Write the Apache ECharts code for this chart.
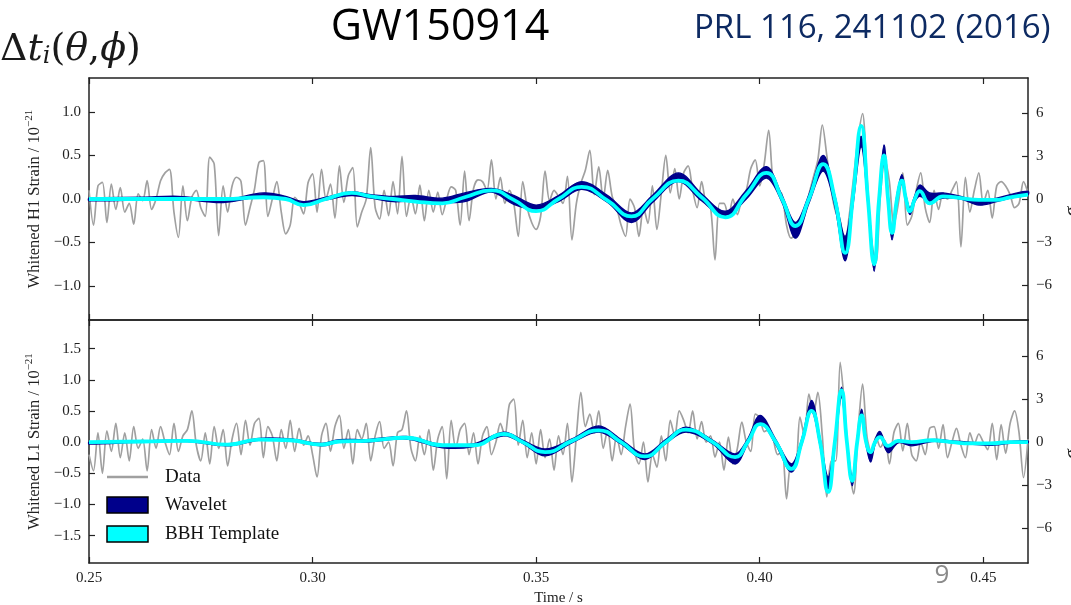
<!DOCTYPE html>
<html><head><meta charset="utf-8">
<script src="https://cdn.jsdelivr.net/npm/echarts@6/dist/echarts.min.js"></script>
<style>html,body{margin:0;padding:0;background:#fff}#c{width:1071px;height:605px}</style>
</head><body><div id="c"></div>
<script>
// ---- tick labels ----
const xTicks = [0.25, 0.30, 0.35, 0.40, 0.45];
const h1StrainTicks = [-1.0, -0.5, 0, 0.5, 1.0];
const l1StrainTicks = [-1.5, -1.0, -0.5, 0, 0.5, 1.0, 1.5];
const sigmaTicks = [-6, -3, 0, 3, 6];
const legendLabels = ['Data', 'Wavelet', 'BBH Template'];

// ---- whitened data, one sample per ms from 0.250 s ----
const dataStartTime = 0.25, dataStep = 0.001;
const h1Data = [0.10,-0.30,0.15,0.19,-0.27,0.17,-0.12,0.13,-0.15,-0.05,
 -0.29,0.06,-0.02,0.21,-0.12,0.00,0.21,0.30,0.34,-0.15,
 -0.44,0.15,-0.25,0.02,0.10,-0.10,-0.20,0.48,0.40,-0.42,
 0.15,-0.15,0.15,0.25,0.20,-0.30,-0.10,0.11,0.42,0.44,
 -0.20,0.00,0.20,-0.15,-0.40,-0.30,0.02,-0.05,-0.17,0.19,
 0.29,-0.15,0.34,0.00,0.17,-0.22,0.38,-0.04,0.27,0.36,
 -0.32,-0.15,0.00,0.59,-0.10,-0.23,0.10,-0.19,0.20,-0.17,
 0.49,-0.20,0.03,-0.17,0.16,-0.25,0.10,-0.15,0.08,-0.18,
 0.00,0.14,0.10,-0.30,0.32,-0.25,0.12,0.22,0.20,0.10,
 0.45,0.00,0.25,-0.05,0.10,-0.05,-0.43,0.20,-0.10,-0.27,
 -0.35,-0.20,0.32,-0.02,0.10,0.03,-0.05,0.26,-0.47,-0.05,
 0.18,0.33,0.56,0.05,0.37,0.00,0.33,0.03,-0.10,-0.30,
 -0.43,0.00,-0.10,-0.43,-0.10,-0.28,0.15,-0.35,0.07,0.50,
 0.07,0.35,0.00,0.30,0.38,0.10,-0.10,0.20,-0.05,-0.10,
 -0.70,-0.05,-0.05,-0.20,0.00,-0.18,0.00,0.10,0.35,0.45,
 0.15,0.40,0.79,0.20,0.12,0.05,-0.30,-0.45,-0.40,-0.30,
 -0.20,0.05,0.25,0.45,0.85,0.50,0.10,-0.15,-0.25,-0.55,
 -0.20,0.25,0.70,0.98,0.25,-0.47,-0.73,0.05,0.45,0.20,
 -0.30,-0.05,0.30,-0.30,-0.20,0.10,0.30,-0.10,-0.27,0.10,
 -0.12,0.07,0.00,0.10,0.20,-0.55,0.25,-0.15,0.10,0.30,
 -0.05,0.10,-0.22,0.15,0.20,0.15,0.05,-0.10,-0.05,0.20,
 0.07];
const l1Data = [-0.20,-0.46,0.15,-0.50,0.18,-0.15,0.30,-0.25,0.15,-0.30,
 0.25,-0.10,0.05,-0.46,0.20,-0.10,0.25,0.00,-0.20,0.30,
 -0.15,0.10,0.20,0.50,-0.05,-0.30,0.15,-0.35,0.25,-0.10,
 0.20,-0.38,0.05,0.30,-0.20,0.35,-0.05,0.30,0.38,-0.25,
 0.25,0.10,-0.30,0.20,-0.10,0.35,-0.15,0.22,-0.05,0.10,
 -0.20,-0.56,0.10,0.30,-0.15,0.25,0.43,-0.10,0.20,-0.35,
 0.20,0.05,0.30,-0.30,0.10,0.33,-0.10,0.00,-0.38,0.15,
 0.20,0.50,-0.10,-0.30,0.10,-0.20,0.20,-0.45,0.05,0.25,
 -0.59,0.35,-0.10,0.20,0.30,-0.20,0.15,-0.35,0.10,0.25,
 -0.20,0.00,0.30,0.10,0.60,0.69,-0.05,0.35,-0.25,0.15,
 -0.35,0.20,-0.25,0.05,-0.45,0.10,-0.20,0.30,-0.64,0.10,
 0.80,0.25,0.45,0.15,0.50,-0.10,0.20,-0.30,0.10,-0.20,
 0.25,0.61,-0.15,-0.35,0.00,-0.64,-0.20,-0.40,0.10,-0.30,
 0.35,0.10,0.50,0.35,0.15,0.50,0.05,0.33,0.00,0.10,
 -0.24,0.00,-0.45,0.08,-0.35,-0.10,0.32,0.00,-0.15,0.45,
 0.40,0.17,0.20,0.05,-0.20,-0.15,-0.91,-0.35,-0.40,0.40,
 0.10,0.77,0.45,0.80,0.10,-0.88,-0.30,-0.30,1.28,0.56,
 -0.40,-0.83,0.18,0.93,0.08,-0.17,0.08,-0.08,0.03,-0.35,
 0.15,0.30,-0.14,0.30,-0.20,-0.30,0.00,-0.20,0.22,0.25,
 -0.10,0.28,-0.25,0.00,0.22,-0.05,-0.25,0.15,-0.03,0.13,
 0.00,-0.12,0.30,-0.28,0.28,-0.18,0.30,0.50,0.15,-0.57,
 0.05];

// ---- reconstructions (H1) ----
const h1KeyTimes = [0.250,0.262,0.270,0.280,0.289,0.294,0.298,0.303,0.3087,0.313,
 0.318,0.323,0.329,0.334,0.340,0.345,0.350,0.355,0.3602,0.366,
 0.3713,0.376,0.3818,0.387,0.3923,0.397,0.4015,0.405,0.408,0.411,
 0.4142,0.4168,0.4191,0.4209,0.4227,0.4242,0.4256,0.4267,0.4278,0.4287,
 0.4296,0.4307,0.4318,0.4327,0.4336,0.4347,0.4358,0.438,0.441,0.445,
 0.449,0.453,0.456,0.460];
const h1Template = [0.00,0.00,0.00,0.00,0.02,0.00,-0.07,0.00,0.07,0.03,
 0.00,-0.03,-0.05,0.02,0.10,-0.01,-0.14,0.00,0.14,-0.02,
 -0.20,0.00,0.21,0.02,-0.21,0.05,0.30,0.00,-0.31,0.00,
 0.40,0.00,-0.62,0.05,0.84,0.00,-0.75,0.00,0.50,0.00,
 -0.39,0.00,0.21,0.00,-0.14,0.00,0.09,-0.05,0.03,0.01,
 -0.01,-0.01,0.02,0.05];
const h1WaveletLow = [-0.02,-0.01,0.00,-0.04,0.03,0.00,-0.06,-0.01,0.04,0.01,
 -0.03,-0.02,-0.04,-0.03,0.08,-0.06,-0.12,-0.03,0.11,-0.04,
 -0.27,-0.04,0.20,-0.02,-0.20,0.00,0.24,-0.04,-0.45,-0.05,
 0.32,-0.08,-0.71,-0.05,0.60,-0.06,-0.83,-0.06,0.43,-0.04,
 -0.47,-0.04,0.18,-0.02,-0.18,-0.03,0.03,-0.03,0.01,0.00,
 -0.07,-0.03,0.01,0.05];
const h1WaveletHigh = [0.01,0.02,0.03,-0.01,0.07,0.03,-0.03,0.02,0.08,0.05,
 0.03,0.04,0.01,0.07,0.12,0.04,-0.07,0.04,0.20,0.04,
 -0.16,0.04,0.30,0.06,-0.14,0.10,0.37,0.04,-0.27,0.05,
 0.50,0.04,-0.43,0.08,0.72,0.04,-0.70,0.05,0.62,0.06,
 -0.35,0.05,0.28,0.04,-0.10,0.04,0.16,0.07,0.07,0.03,
 -0.03,0.01,0.05,0.09];

// ---- reconstructions (L1) ----
const l1KeyTimes = [0.250,0.262,0.272,0.281,0.288,0.295,0.302,0.306,0.312,0.321,
 0.329,0.336,0.3428,0.347,0.352,0.358,0.364,0.369,0.3743,0.379,
 0.3835,0.3895,0.3945,0.3973,0.4001,0.4036,0.4071,0.4094,0.4116,0.4135,
 0.4153,0.4168,0.4183,0.4195,0.4207,0.4218,0.4228,0.4238,0.4248,0.4258,
 0.4269,0.4287,0.431,0.434,0.4385,0.443,0.447,0.4515,0.456,0.460];
const l1Template = [0.00,0.01,0.02,-0.04,0.04,0.03,-0.04,0.01,0.02,0.07,
 -0.05,-0.05,0.13,0.00,-0.16,0.02,0.19,0.00,-0.23,0.00,
 0.20,0.00,-0.24,0.00,0.29,0.00,-0.43,0.00,0.50,0.00,
 -0.80,0.00,0.83,0.00,-0.62,0.00,0.43,0.00,-0.16,0.00,
 0.08,-0.06,0.02,0.00,0.03,0.00,-0.02,-0.02,0.00,0.00];
const l1WaveletLow = [-0.03,0.00,0.01,-0.06,0.03,0.02,-0.06,0.00,0.00,0.05,
 -0.09,-0.07,0.10,-0.02,-0.22,-0.01,0.16,-0.03,-0.28,-0.02,
 0.16,-0.03,-0.35,-0.03,0.32,-0.04,-0.48,-0.04,0.50,-0.06,
 -0.75,-0.05,0.72,-0.05,-0.70,-0.04,0.40,-0.05,-0.32,-0.04,
 0.10,-0.17,-0.01,-0.06,0.01,-0.01,-0.03,-0.05,-0.02,-0.01];
const l1WaveletHigh = [0.00,0.02,0.03,-0.03,0.06,0.05,-0.02,0.04,0.04,0.09,
 -0.04,-0.03,0.16,0.03,-0.11,0.05,0.26,0.04,-0.19,0.04,
 0.24,0.03,-0.19,0.05,0.43,0.04,-0.35,0.05,0.67,0.06,
 -0.56,0.05,0.88,0.05,-0.55,0.06,0.53,0.05,-0.20,0.04,
 0.17,-0.09,0.03,-0.02,0.04,0.02,0.00,-0.02,0.01,0.02];

// ---- build chart ----
const SERIF = 'Liberation Serif';
const AX = '#222';
const GRAY = '#a0a0a0', NAVY = '#00008b', CYAN = '#00ffff';
const minus = s => s.replace('-', '\u2212');

function xAxis(grid, pos, labels, name) {
  return {
    type: 'value', gridIndex: grid, position: pos, min: 0.25, max: 0.46,
    axisLine: { show: true, onZero: false, lineStyle: { color: AX, width: 1.5 } },
    axisTick: { show: true, inside: true, length: 6, customValues: xTicks, lineStyle: { color: AX, width: 1.2 } },
    axisLabel: { show: labels, customValues: xTicks, formatter: v => v.toFixed(2), margin: 8,
                 fontFamily: SERIF, fontSize: 15, color: AX },
    splitLine: { show: false },
    name: name || '', nameLocation: 'middle', nameGap: 28,
    nameTextStyle: { fontFamily: SERIF, fontSize: 15, color: AX }
  };
}
function yLeft(grid, lo, hi, ticks, det) {
  return {
    type: 'value', gridIndex: grid, position: 'left', min: lo, max: hi,
    axisLine: { show: true, onZero: false, lineStyle: { color: AX, width: 1.5 } },
    axisTick: { show: true, inside: true, length: 6, customValues: ticks, lineStyle: { color: AX, width: 1.2 } },
    axisLabel: { customValues: ticks, formatter: v => minus(v.toFixed(1)), margin: 8,
                 fontFamily: SERIF, fontSize: 15, color: AX },
    splitLine: { show: false },
    name: 'Whitened ' + det + ' Strain / 10{sup|\u221221}', nameLocation: 'middle', nameGap: 43, nameRotate: 90,
    nameMoveOverlap: false,
    nameTextStyle: { fontFamily: SERIF, fontSize: 16.5, color: AX, lineHeight: 22,
      rich: { sup: { fontFamily: SERIF, fontSize: 11, color: AX, verticalAlign: 'top', lineHeight: 13 } } }
  };
}
function yRight(grid, lo, hi) {
  return {
    type: 'value', gridIndex: grid, position: 'right', min: lo, max: hi,
    axisLine: { show: true, onZero: false, lineStyle: { color: AX, width: 1.5 } },
    axisTick: { show: true, inside: true, length: 6, customValues: sigmaTicks, lineStyle: { color: AX, width: 1.2 } },
    axisLabel: { customValues: sigmaTicks, formatter: v => minus(String(v)), margin: 8,
                 fontFamily: SERIF, fontSize: 15, color: AX },
    splitLine: { show: false },
    name: '{s|\u03c3}{n|noise}', nameLocation: 'middle', nameGap: 35, nameRotate: 90,
    nameMoveOverlap: false,
    nameTextStyle: { rich: {
      s: { fontFamily: SERIF, fontStyle: 'italic', fontSize: 20, color: AX },
      n: { fontFamily: SERIF, fontStyle: 'italic', fontSize: 12, color: AX, verticalAlign: 'bottom' } } }
  };
}
function dataSeries(arr, xi, yi) {
  return { type: 'line', name: legendLabels[0], xAxisIndex: xi, yAxisIndex: yi,
    data: arr.map((v, i) => [dataStartTime + i * dataStep, v]),
    symbol: 'none', smooth: 0.3, lineStyle: { color: GRAY, width: 1.7 }, itemStyle: { color: GRAY }, z: 1 };
}
function waveletSeries(times, low, high, xi, yi) {
  return { type: 'custom', name: legendLabels[1], xAxisIndex: xi, yAxisIndex: yi, z: 2, silent: true,
    data: times.map((t, i) => [t, low[i], high[i]]),
    encode: { x: 0, y: [1, 2] },
    renderItem: (params, api) => {
      if (params.dataIndex !== 0) return null;
      const top = times.map((t, i) => api.coord([t, high[i]]));
      const bot = times.map((t, i) => api.coord([t, low[i]])).reverse();
      return { type: 'polygon', shape: { points: top.concat(bot), smooth: 0.35 },
        style: { fill: NAVY, stroke: NAVY, lineWidth: 1.4 } };
    } };
}
function templateSeries(times, vals, xi, yi) {
  return { type: 'line', name: legendLabels[2], xAxisIndex: xi, yAxisIndex: yi,
    data: times.map((t, i) => [t, vals[i]]), symbol: 'none', smooth: 0.5,
    lineStyle: { color: CYAN, width: 3.8 }, itemStyle: { color: CYAN }, z: 3 };
}

const chart = echarts.init(document.getElementById('c'), null, { renderer: 'canvas' });
chart.setOption({
  animation: false,
  backgroundColor: '#fff',
  grid: [
    { left: 89, right: 43, top: 78, height: 242, outerBoundsMode: 'none', containLabel: false },
    { left: 89, right: 43, top: 320, height: 243, outerBoundsMode: 'none', containLabel: false }
  ],
  xAxis: [
    xAxis(0, 'bottom', false), xAxis(0, 'top', false),
    xAxis(1, 'bottom', true, 'Time / s'), xAxis(1, 'top', false)
  ],
  yAxis: [
    yLeft(0, -1.39, 1.39, h1StrainTicks, 'H1'), yRight(0, -8.45, 8.45),
    yLeft(1, -1.94, 1.96, l1StrainTicks, 'L1'), yRight(1, -8.45, 8.55)
  ],
  graphic: [
    { type: 'text', x: 440, y: 28, style: { text: 'GW150914', fontFamily: 'Open Sans', fontSize: 43,
      fill: '#000', align: 'center', verticalAlign: 'middle' } },
    { type: 'text', x: 694, y: 29, style: { text: 'PRL 116, 241102 (2016)', fontFamily: 'Open Sans', fontSize: 33,
      fill: '#0d2a62', align: 'left', verticalAlign: 'middle' } },
    { type: 'text', x: 0, y: 50, style: {
      text: '{d|\u0394}{t|t}{i|i}{p|(}{t|\u03b8}{p|,}{t|\u03d5}{p|)}',
      verticalAlign: 'middle', align: 'left',
      rich: {
        d: { fontFamily: 'DejaVu Serif', fontSize: 38, fill: '#1a1a1a' },
        t: { fontFamily: 'DejaVu Serif', fontStyle: 'italic', fontSize: 38, fill: '#1a1a1a' },
        i: { fontFamily: 'DejaVu Serif', fontStyle: 'italic', fontSize: 24, fill: '#1a1a1a', verticalAlign: 'bottom', lineHeight: 18 },
        p: { fontFamily: 'DejaVu Serif', fontSize: 38, fill: '#1a1a1a' }
      } } },
    { type: 'text', x: 942, y: 576, style: { text: '9', fontFamily: 'Open Sans', fontSize: 26,
      fill: '#8a8a8a', align: 'center', verticalAlign: 'middle' } },
    // legend
    { type: 'line', shape: { x1: 107, y1: 477, x2: 148, y2: 477 }, style: { stroke: GRAY, lineWidth: 2.5 } },
    { type: 'rect', shape: { x: 107, y: 497, width: 41, height: 16 }, style: { fill: NAVY, stroke: '#000', lineWidth: 1.5 } },
    { type: 'rect', shape: { x: 107, y: 526, width: 41, height: 16 }, style: { fill: CYAN, stroke: '#000', lineWidth: 1.5 } },
    { type: 'text', x: 165, y: 477, style: { text: legendLabels[0], fontFamily: SERIF, fontSize: 19, fill: '#111', verticalAlign: 'middle' } },
    { type: 'text', x: 165, y: 505, style: { text: legendLabels[1], fontFamily: SERIF, fontSize: 19, fill: '#111', verticalAlign: 'middle' } },
    { type: 'text', x: 165, y: 534, style: { text: legendLabels[2], fontFamily: SERIF, fontSize: 19, fill: '#111', verticalAlign: 'middle' } }
  ],
  series: [
    dataSeries(h1Data, 0, 0),
    waveletSeries(h1KeyTimes, h1WaveletLow, h1WaveletHigh, 0, 0),
    templateSeries(h1KeyTimes, h1Template, 0, 0),
    dataSeries(l1Data, 2, 2),
    waveletSeries(l1KeyTimes, l1WaveletLow, l1WaveletHigh, 2, 2),
    templateSeries(l1KeyTimes, l1Template, 2, 2)
  ]
});
</script>
</body></html>
